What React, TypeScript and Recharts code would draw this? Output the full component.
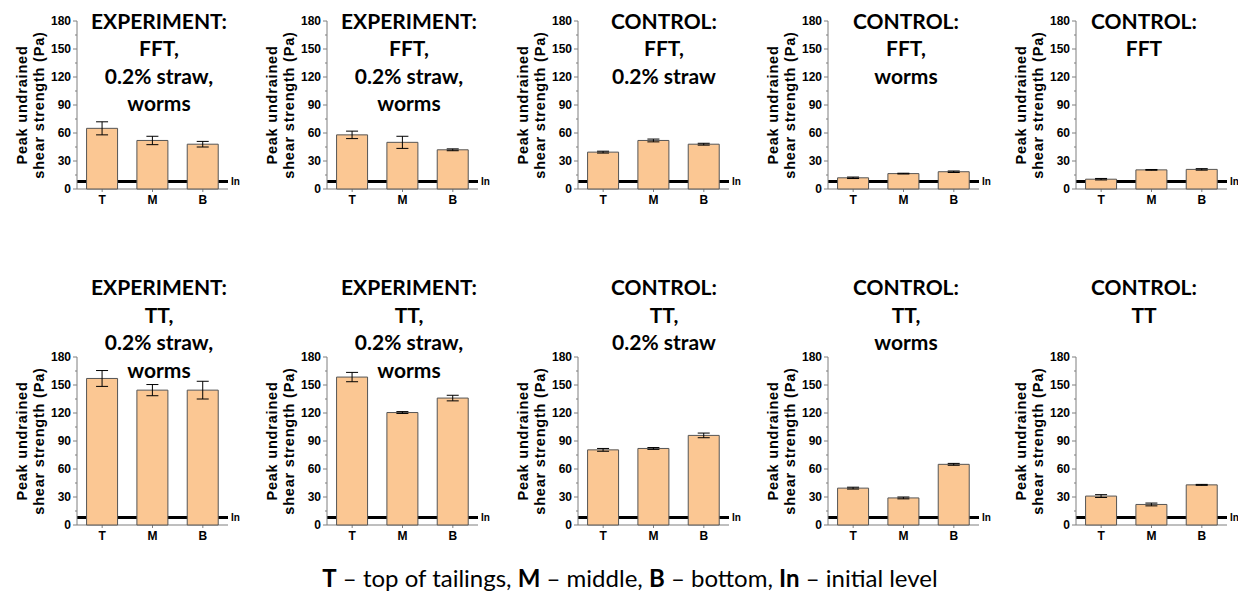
import React from "react";
import { BarChart, Bar, XAxis, YAxis, ReferenceLine, ErrorBar } from "recharts";

// Sampling positions in the column
const positions = ["T", "M", "B"];

// Peak undrained shear strength (Pa), FFT columns
const strengthFFT = [
  [65, 52, 48],
  [58, 50, 42],
  [39.5, 52, 48],
  [12, 16.5, 18.5],
  [10.5, 20.5, 21],
];
const errorFFT = [
  [7, 4.5, 3],
  [4, 6.5, 1],
  [1, 1.5, 1],
  [0.8, 0.4, 0.8],
  [0.8, 0.4, 0.8],
];

// Peak undrained shear strength (Pa), TT columns
const strengthTT = [
  [157, 144.5, 144.5],
  [158.5, 120.5, 136],
  [80.5, 82, 96],
  [39.5, 29, 65],
  [31, 22, 43],
];
const errorTT = [
  [8.5, 6, 9.5],
  [5, 1, 3],
  [1.5, 1, 2.5],
  [1, 1, 1],
  [1.5, 1.5, 0.5],
];

// Initial level of the material (Pa)
const initialLevel = 8;

const titlesFFT = [
  ["EXPERIMENT:", "FFT,", "0.2% straw,", "worms"],
  ["EXPERIMENT:", "FFT,", "0.2% straw,", "worms"],
  ["CONTROL:", "FFT,", "0.2% straw"],
  ["CONTROL:", "FFT,", "worms"],
  ["CONTROL:", "FFT"],
];
const titlesTT = [
  ["EXPERIMENT:", "TT,", "0.2% straw,", "worms"],
  ["EXPERIMENT:", "TT,", "0.2% straw,", "worms"],
  ["CONTROL:", "TT,", "0.2% straw"],
  ["CONTROL:", "TT,", "worms"],
  ["CONTROL:", "TT"],
];

const yTicks = [0, 15, 30, 45, 60, 75, 90, 105, 120, 135, 150, 165, 180];

// layout
const colX = [0, 250, 501, 751, 999];
const titleCx = [159, 409, 664, 906, 1144];
const rowTop = [0, 336];
const PLOT_TOP = 21;
const PLOT_H = 168;
const PLOT_LEFT = 77;
const Y_AXIS_W = 40;
const PLOT_RIGHT_PAD = 22;
const CHART_W = 250;
const X_AXIS_H = 24;
const CHART_H = PLOT_TOP + PLOT_H + X_AXIS_H;

const AXIS_GREY = "#7f7f7f";
const BAR_FILL = "#FBC793";
const BAR_STROKE = "#555555";
const ARIAL = "'Liberation Sans', Arial, sans-serif";
const TITLE_FONT = "Lato, 'Open Sans', sans-serif";

const YTick = (props: any) => {
  const { x, y, payload } = props;
  const major = payload.value % 30 === 0;
  return (
    <g>
      <line x1={x - (major ? 4 : 2)} x2={x} y1={y} y2={y} stroke={AXIS_GREY} strokeWidth={1} />
      {major && (
        <text
          x={x - 6}
          y={y}
          dy={4}
          textAnchor="end"
          fontSize={12}
          fontWeight="bold"
          fontFamily={ARIAL}
          fill="#000"
        >
          {payload.value}
        </text>
      )}
    </g>
  );
};

const XTick = (props: any) => {
  const { x, y, payload } = props;
  return (
    <text
      x={x}
      y={y}
      dy={10}
      textAnchor="middle"
      fontSize={12}
      fontWeight="bold"
      fontFamily={ARIAL}
      fill="#000"
    >
      {payload.value}
    </text>
  );
};

const InLabel = (props: any) => {
  const vb = props.viewBox || {};
  const x = (vb.x ?? 0) + (vb.width ?? 0) + 3;
  const y = vb.y ?? 0;
  return (
    <text x={x} y={y} dy={3.5} fontSize={10} fontWeight="bold" fontFamily={ARIAL} fill="#000">
      In
    </text>
  );
};

type PanelProps = { values: number[]; errors: number[]; left: number; top: number };

// Each panel is two stacked charts with identical scales: the lower one holds the
// axes and the initial-level line, the upper one repaints the bars over that line.
const Panel = ({ values, errors, left, top }: PanelProps) => {
  const rows = positions.map((p, i) => ({ pos: p, value: values[i], err: errors[i] }));
  const layer: React.CSSProperties = { position: "absolute", left: 0, top: 0 };
  const margin = { top: PLOT_TOP, right: PLOT_RIGHT_PAD, left: PLOT_LEFT - Y_AXIS_W, bottom: 0 };
  return (
    <div style={{ position: "absolute", left, top, width: CHART_W, height: CHART_H }}>
      <div style={layer}>
        <BarChart width={CHART_W} height={CHART_H} data={rows} margin={margin} barCategoryGap="19%">
          <XAxis
            dataKey="pos"
            height={X_AXIS_H}
            axisLine={{ stroke: AXIS_GREY }}
            tickLine={{ stroke: AXIS_GREY }}
            tickSize={3}
            tick={<XTick />}
            interval={0}
          />
          <YAxis
            type="number"
            domain={[0, 180]}
            ticks={yTicks}
            interval={0}
            width={Y_AXIS_W}
            tickSize={0}
            tickMargin={0}
            tickLine={false}
            axisLine={{ stroke: AXIS_GREY }}
            tick={<YTick />}
          />
          <Bar dataKey="value" fill="none" stroke="none" isAnimationActive={false} />
          <ReferenceLine y={initialLevel} stroke="#000" strokeWidth={3} label={<InLabel />} />
        </BarChart>
      </div>
      <div style={layer}>
        <BarChart width={CHART_W} height={CHART_H} data={rows} margin={margin} barCategoryGap="19%">
          <XAxis dataKey="pos" height={X_AXIS_H} axisLine={false} tickLine={false} tick={false} />
          <YAxis
            type="number"
            domain={[0, 180]}
            ticks={yTicks}
            width={Y_AXIS_W}
            axisLine={false}
            tickLine={false}
            tick={false}
          />
          <Bar
            dataKey="value"
            fill={BAR_FILL}
            stroke={BAR_STROKE}
            strokeWidth={1}
            isAnimationActive={false}
          >
            <ErrorBar dataKey="err" width={6} stroke="#000" strokeWidth={1} />
          </Bar>
        </BarChart>
      </div>
    </div>
  );
};

const Title = ({ lines, cx, baseline }: { lines: string[]; cx: number; baseline: number }) => (
  <text textAnchor="middle" fontFamily={TITLE_FONT} fontWeight="bold" fontSize={21} fill="#000">
    {lines.map((l, i) => (
      <tspan key={i} x={cx} y={baseline + i * 27.5}>
        {l}
      </tspan>
    ))}
  </text>
);

const YLabel = ({ left, cy }: { left: number; cy: number }) => (
  <g fontFamily={ARIAL} fontWeight="bold" fontSize={14.5} letterSpacing={0.8} fill="#000">
    <text
      x={left + 22}
      y={cy}
      textAnchor="middle"
      dominantBaseline="central"
      transform={`rotate(-90, ${left + 22}, ${cy})`}
    >
      Peak undrained
    </text>
    <text
      x={left + 39}
      y={cy}
      textAnchor="middle"
      dominantBaseline="central"
      transform={`rotate(-90, ${left + 39}, ${cy})`}
    >
      shear strength (Pa)
    </text>
  </g>
);

export default function App() {
  return (
    <div
      style={{
        position: "absolute",
        left: 0,
        top: 0,
        width: 1238,
        height: 596,
        background: "#fff",
        overflow: "hidden",
      }}
    >
      {strengthFFT.map((v, i) => (
        <Panel key={`f${i}`} values={v} errors={errorFFT[i]} left={colX[i]} top={rowTop[0]} />
      ))}
      {strengthTT.map((v, i) => (
        <Panel key={`t${i}`} values={v} errors={errorTT[i]} left={colX[i]} top={rowTop[1]} />
      ))}
      <svg
        width={1238}
        height={596}
        style={{ position: "absolute", left: 0, top: 0, pointerEvents: "none" }}
      >
        {titlesFFT.map((t, i) => (
          <Title key={`tf${i}`} lines={t} cx={titleCx[i]} baseline={28.5} />
        ))}
        {titlesTT.map((t, i) => (
          <Title key={`tt${i}`} lines={t} cx={titleCx[i]} baseline={295} />
        ))}
        {colX.map((x, i) => (
          <YLabel key={`yl0${i}`} left={x} cy={rowTop[0] + PLOT_TOP + PLOT_H / 2} />
        ))}
        {colX.map((x, i) => (
          <YLabel key={`yl1${i}`} left={x} cy={rowTop[1] + PLOT_TOP + PLOT_H / 2} />
        ))}
        <text
          x={630}
          y={587}
          textAnchor="middle"
          fontFamily={TITLE_FONT}
          fontSize={24}
          fill="#000"
        >
          <tspan fontWeight="bold">T</tspan>
          <tspan> – top of tailings, </tspan>
          <tspan fontWeight="bold">M</tspan>
          <tspan> – middle, </tspan>
          <tspan fontWeight="bold">B</tspan>
          <tspan> – bottom, </tspan>
          <tspan fontWeight="bold">In</tspan>
          <tspan> – initial level</tspan>
        </text>
      </svg>
    </div>
  );
}
